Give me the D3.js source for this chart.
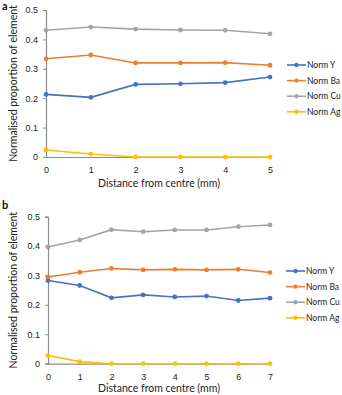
<!DOCTYPE html>
<html>
<head>
<meta charset="utf-8">
<script src="https://cdn.jsdelivr.net/npm/d3@7"></script>
<style>
body { margin: 0; background: #fff; }
svg { font-family: Lato, "Open Sans", sans-serif; }
</style>
</head>
<body>
<svg width="342" height="395"></svg>
<script>
// data
var seriesNames = ["Norm Y", "Norm Ba", "Norm Cu", "Norm Ag"];
var colours = ["#4472C4", "#ED7D31", "#A5A5A5", "#FFC000"];
var yTicks = [0, 0.1, 0.2, 0.3, 0.4, 0.5];

var distA = [0, 1, 2, 3, 4, 5];
var yA  = [0.213, 0.203, 0.247, 0.249, 0.253, 0.272];
var baA = [0.334, 0.347, 0.320, 0.320, 0.321, 0.312];
var cuA = [0.431, 0.442, 0.435, 0.432, 0.431, 0.419];
var agA = [0.024, 0.010, 0, 0, 0, 0];

var distB = [0, 1, 2, 3, 4, 5, 6, 7];
var yB  = [0.283, 0.266, 0.224, 0.234, 0.227, 0.230, 0.215, 0.223];
var baB = [0.295, 0.311, 0.324, 0.319, 0.321, 0.319, 0.321, 0.310];
var cuB = [0.397, 0.421, 0.456, 0.449, 0.455, 0.455, 0.466, 0.472];
var agB = [0.028, 0.007, 0, 0, 0, 0, 0, 0];

var svg = d3.select('svg');

function panel(opt) {
    var g = svg.append('g');
    var x = d3.scaleLinear().domain(d3.extent(opt.dist)).range([opt.x0, opt.x1]);
    var y = d3.scaleLinear().domain([0, 0.5]).range([opt.y0, opt.y1]);

    // axes
    var yAxis = d3.axisLeft(y).tickValues(yTicks).tickSize(3).tickPadding(5)
        .tickFormat(function(d){ return d === 0 ? "0" : d3.format(".1f")(d); });
    var yg = g.append('g').attr('transform', 'translate(' + opt.x0 + ',0)').call(yAxis);
    var xAxis = d3.axisBottom(x).tickValues(opt.dist).tickSize(0).tickPadding(10)
        .tickFormat(d3.format("d"));
    var xg = g.append('g').attr('transform', 'translate(0,' + opt.y0 + ')').call(xAxis);
    [yg, xg].forEach(function(a){
        a.select('.domain').attr('stroke', '#8c8c8c').attr('stroke-width', 1.2);
        a.selectAll('.tick line').attr('stroke', '#8c8c8c');
        a.selectAll('text').attr('fill', '#222').attr('font-size', 9);
    });

    var line = d3.line().x(function(d, i){ return x(opt.dist[i]); }).y(function(d){ return y(d); });

    opt.series.forEach(function(s, k){
        g.append('path').datum(s).attr('d', line)
            .attr('fill', 'none').attr('stroke', colours[k]).attr('stroke-width', 1.6);
        g.selectAll(null).data(s).enter().append('circle')
            .attr('cx', function(d, i){ return x(opt.dist[i]); })
            .attr('cy', function(d){ return y(d); })
            .attr('r', 2.4).attr('fill', colours[k]);
    });

    // legend
    var lg = g.append('g');
    seriesNames.forEach(function(n, k){
        var ly = opt.legY + k * 15.6;
        lg.append('line').attr('x1', opt.legX).attr('x2', opt.legX + 19)
            .attr('y1', ly).attr('y2', ly).attr('stroke', colours[k]).attr('stroke-width', 1.6);
        lg.append('circle').attr('cx', opt.legX + 9.5).attr('cy', ly).attr('r', 2.2).attr('fill', colours[k]);
        lg.append('text').attr('x', opt.legX + 20).attr('y', ly + 3.2)
            .attr('font-size', 8.5).attr('fill', '#222').text(n);
    });

    // titles
    g.append('text').attr('transform', 'translate(17,' + ((opt.y0 + opt.y1) / 2) + ') rotate(-90)')
        .attr('text-anchor', 'middle').attr('font-size', 10.5).attr('fill', '#222')
        .text('Normalised proportion of element');
    g.append('text').attr('x', 159).attr('y', opt.xTitleY)
        .attr('text-anchor', 'middle').attr('font-size', 10.5).attr('fill', '#222')
        .text('Distance from centre (mm)');
    g.append('text').attr('x', 2).attr('y', opt.labelY)
        .attr('font-size', 11).attr('font-weight', 'bold').attr('fill', '#111')
        .text(opt.label);
}

panel({label: 'a', labelY: 10, dist: distA, series: [yA, baA, cuA, agA],
       x0: 46, x1: 270, y0: 157, y1: 10, legX: 287, legY: 65, xTitleY: 187});
panel({label: 'b', labelY: 209, dist: distB, series: [yB, baB, cuB, agB],
       x0: 48, x1: 270, y0: 363.7, y1: 216.7, legX: 286, legY: 271, xTitleY: 392});
</script>
</body>
</html>
